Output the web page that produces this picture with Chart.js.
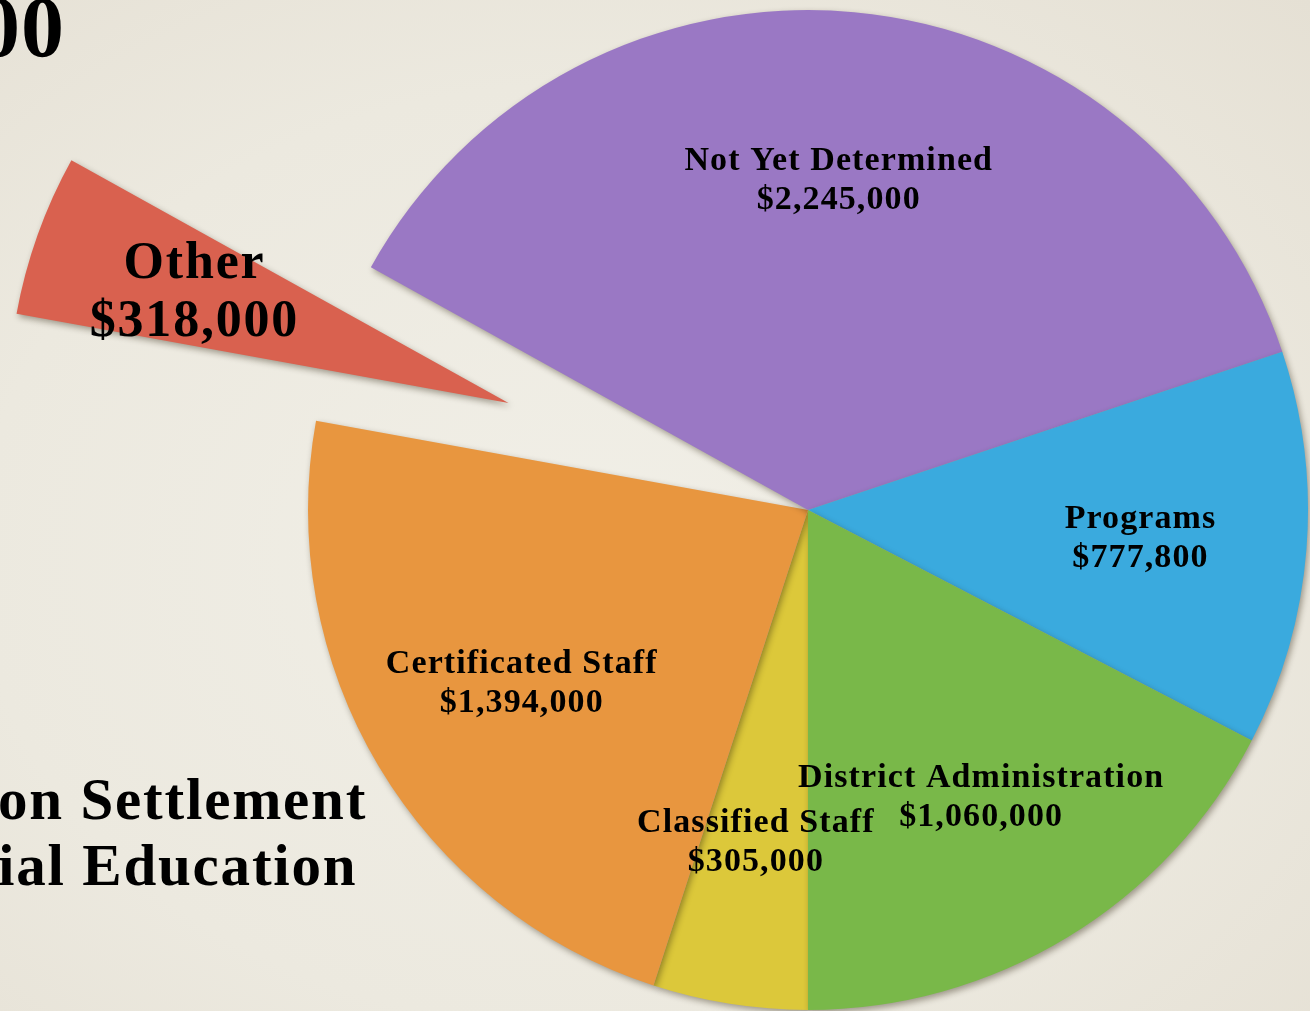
<!DOCTYPE html>
<html>
<head>
<meta charset="utf-8">
<script src="https://cdn.jsdelivr.net/npm/chart.js@4.4.1/dist/chart.umd.min.js"></script>
<style>
  html, body {
    margin: 0;
    padding: 0;
    width: 1310px;
    height: 1011px;
    overflow: hidden;
  }
  body {
    position: relative;
    background: radial-gradient(ellipse at 45% 55%, #f1efe7 0%, #ece9df 60%, #e5e0d4 100%);
    font-family: 'Liberation Serif', 'DejaVu Serif', serif;
    font-weight: bold;
    color: #000;
  }
  .slide-text {
    position: absolute;
    white-space: nowrap;
    line-height: 1;
  }
  #title-tail { right: 1245px; top: -16px; font-size: 86px; letter-spacing: 1px; text-align: right; }
  #subtitle { left: -2px; top: 766px; font-size: 59px; line-height: 66px; letter-spacing: 1.8px; }
  #chart-wrap {
    position: absolute;
    left: 0;
    top: 0;
    width: 1310px;
    height: 1011px;
  }
</style>
</head>
<body>
<div class="slide-text" id="title-tail">00</div>
<div class="slide-text" id="subtitle">on Settlement<br>ial Education</div>
<div id="chart-wrap"><canvas id="pie"></canvas></div>

<script>
// slices, clockwise from straight down
const categories = ['Classified Staff', 'Certificated Staff', 'Other', 'Not Yet Determined', 'Programs', 'District Administration'];
const amounts = [305000, 1394000, 318000, 2245000, 777800, 1060000];
const sliceColors = ['#dcc83a', '#e8963f', '#d9614f', '#9a78c4', '#3aaade', '#79b849'];

const explodedSlice = 'Other';
const explodeDistance = 318;

function money(v) {
  return '$' + v.toLocaleString('en-US');
}

// push the exploded slice away from the centre (idempotent, based on chart centre)
const explodePlugin = {
  id: 'explode',
  beforeDatasetsDraw(chart) {
    const meta = chart.getDatasetMeta(0);
    const area = chart.chartArea;
    const cx = (area.left + area.right) / 2;
    const cy = (area.top + area.bottom) / 2;
    meta.data.forEach((arc, i) => {
      const mid = (arc.startAngle + arc.endAngle) / 2;
      const d = categories[i] === explodedSlice ? explodeDistance : 0;
      arc.x = cx + Math.cos(mid) * d;
      arc.y = cy + Math.sin(mid) * d;
    });
    const ctx = chart.ctx;
    ctx.save();
    ctx.shadowColor = 'rgba(40, 30, 10, 0.4)';
    ctx.shadowBlur = 6;
    ctx.shadowOffsetX = 2;
    ctx.shadowOffsetY = 3;
  },
  afterDatasetsDraw(chart) {
    chart.ctx.restore();
  }
};

// two line labels at two thirds of the radius
const labelPlugin = {
  id: 'sliceLabels',
  afterDatasetsDraw(chart) {
    const ctx = chart.ctx;
    const meta = chart.getDatasetMeta(0);
    ctx.save();
    ctx.fillStyle = '#000';
    ctx.textAlign = 'center';
    ctx.textBaseline = 'middle';
    meta.data.forEach((arc, i) => {
      const mid = (arc.startAngle + arc.endAngle) / 2;
      const r = arc.outerRadius * 0.667;
      const x = arc.x + Math.cos(mid) * r;
      const y = arc.y + Math.sin(mid) * r + 3;
      const big = categories[i] === explodedSlice;
      const size = big ? 52 : 34;
      const gap = big ? 29 : 19.5;
      ctx.font = 'bold ' + size + "px 'Liberation Serif', 'DejaVu Serif', serif";
      ctx.letterSpacing = big ? '1.8px' : '1.1px';
      ctx.fillText(categories[i], x, y - gap);
      ctx.fillText(money(amounts[i]), x, y + gap);
    });
    ctx.restore();
  }
};

new Chart(document.getElementById('pie'), {
  type: 'pie',
  data: {
    labels: categories,
    datasets: [{
      data: amounts,
      backgroundColor: sliceColors,
      borderWidth: 0,
      clip: false
    }]
  },
  options: {
    responsive: true,
    maintainAspectRatio: false,
    animation: false,
    rotation: 180,
    radius: 500,
    layout: { padding: { left: 306, right: 0, top: 9, bottom: 0 } },
    plugins: {
      legend: { display: false },
      tooltip: { enabled: false }
    }
  },
  plugins: [explodePlugin, labelPlugin]
});
</script>
</body>
</html>
